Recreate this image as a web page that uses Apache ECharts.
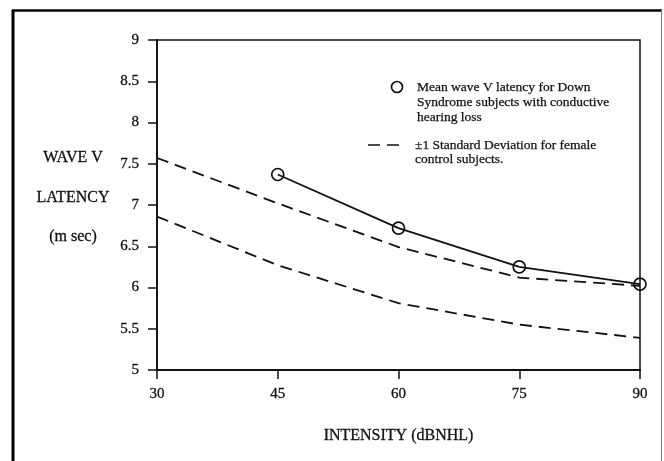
<!DOCTYPE html>
<html>
<head>
<meta charset="utf-8">
<script src="https://cdn.jsdelivr.net/npm/echarts@6/dist/echarts.min.js"></script>
<style>
html,body{margin:0;padding:0;background:#fff;}
#chart{width:664px;height:461px;}
</style>
</head>
<body>
<div id="chart"></div>
<script>
var intensities = [30, 45, 60, 75, 90];
var meanLatency = [null, 7.37, 6.72, 6.25, 6.04];
var upperSD = [7.57, 7.02, 6.49, 6.12, 6.02];
var lowerSD = [6.86, 6.27, 5.81, 5.55, 5.39];
var yTicks = ['5', '5.5', '6', '6.5', '7', '7.5', '8', '8.5', '9'];
var legendMean = ['Mean wave V latency for Down', 'Syndrome subjects with conductive', 'hearing loss'];
var legendSD = ['\u00b11 Standard Deviation for female', 'control subjects.'];
var yTitle = ['WAVE V', 'LATENCY', '(m sec)'];
var xTitle = 'INTENSITY (dBNHL)';

function pairs(vals) {
  var out = [];
  for (var i = 0; i < intensities.length; i++) {
    if (vals[i] != null) out.push([intensities[i], vals[i]]);
  }
  return out;
}

var ink = '#111';
var serif = '"Liberation Serif", "DejaVu Serif", serif';
var thick = {textBorderColor: ink, textBorderWidth: 0.3};

var chart = echarts.init(document.getElementById('chart'));

var graphics = [
  // outer frame
  {type: 'line', shape: {x1: 13, y1: 10, x2: 13, y2: 461}, style: {stroke: '#000', lineWidth: 3}},
  {type: 'line', shape: {x1: 12, y1: 10.5, x2: 662, y2: 10.5}, style: {stroke: '#000', lineWidth: 2.5}},
  {type: 'line', shape: {x1: 661.5, y1: 10, x2: 661.5, y2: 461}, style: {stroke: '#777', lineWidth: 1}},
  // legend: mean
  {type: 'circle', shape: {cx: 397, cy: 87, r: 5.5}, style: {stroke: ink, fill: '#fff', lineWidth: 1.7}},
  // legend: sd dashed
  {type: 'line', shape: {x1: 368, y1: 145, x2: 404, y2: 145}, style: {stroke: ink, lineWidth: 1.6, lineDash: [12, 7]}}
];
legendMean.forEach(function (t, i) {
  graphics.push({type: 'text', x: 417, y: 87 + i * 15, style: {text: t, font: '13.5px ' + serif, fill: ink, verticalAlign: 'middle', stroke: ink, lineWidth: 0.25}});
});
legendSD.forEach(function (t, i) {
  graphics.push({type: 'text', x: 415, y: 145 + i * 14.5, style: {text: t, font: '13.5px ' + serif, fill: ink, verticalAlign: 'middle', stroke: ink, lineWidth: 0.25}});
});
var yTitleY = [158, 198, 237];
yTitle.forEach(function (t, i) {
  graphics.push({type: 'text', x: 73, y: yTitleY[i], style: {text: t, font: '16px ' + serif, fill: ink, align: 'center', verticalAlign: 'middle', stroke: ink, lineWidth: 0.3}});
});

var option = {
  animation: false,
  backgroundColor: '#fff',
  grid: {left: 157, right: 24, top: 40, bottom: 91, show: true, borderColor: ink, borderWidth: 1.5, backgroundColor: 'transparent'},
  xAxis: {
    type: 'value', min: 30, max: 90, interval: 15,
    name: xTitle, nameLocation: 'middle', nameGap: 58,
    nameTextStyle: Object.assign({fontFamily: serif, fontSize: 16, color: ink}, thick),
    axisLine: {show: true, lineStyle: {color: ink, width: 1.8}},
    axisTick: {show: true, length: 9, lineStyle: {color: ink, width: 1.5}},
    axisLabel: Object.assign({fontFamily: serif, fontSize: 15, color: ink, margin: 17}, thick),
    splitLine: {show: false}
  },
  yAxis: {
    type: 'value', min: 5, max: 9, interval: 0.5,
    axisLine: {show: true, lineStyle: {color: ink, width: 1.8}},
    axisTick: {show: true, length: 9, lineStyle: {color: ink, width: 1.5}},
    axisLabel: Object.assign({fontFamily: serif, fontSize: 15, color: ink, margin: 18,
      formatter: function (v) { var s = String(v); return yTicks.indexOf(s) >= 0 ? s : ''; }}, thick),
    splitLine: {show: false}
  },
  graphic: graphics,
  series: [
    {
      name: '+1 SD', type: 'line', data: pairs(upperSD), showSymbol: false, symbol: 'none',
      lineStyle: {color: ink, width: 1.8, type: [12, 7]}, z: 2
    },
    {
      name: '-1 SD', type: 'line', data: pairs(lowerSD), showSymbol: false, symbol: 'none',
      lineStyle: {color: ink, width: 1.8, type: [12, 7]}, z: 2
    },
    {
      name: 'Mean', type: 'line', data: pairs(meanLatency),
      symbol: 'circle', symbolSize: 12,
      itemStyle: {color: 'rgba(255,255,255,0)', borderColor: ink, borderWidth: 1.7},
      lineStyle: {color: ink, width: 1.8}, z: 3
    }
  ]
};
chart.setOption(option);
</script>
</body>
</html>
